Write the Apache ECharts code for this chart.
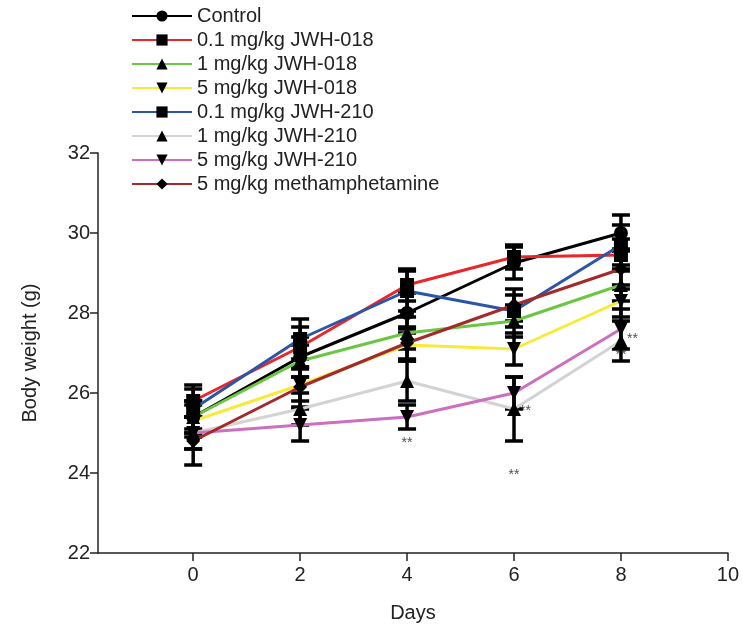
<!DOCTYPE html>
<html>
<head>
<meta charset="utf-8">
<script src="https://cdn.jsdelivr.net/npm/echarts@6/dist/echarts.min.js"></script>
<style>body{margin:0}#chart{width:742px;height:641px}</style>
</head>
<body>
<div id="chart"></div>
<script type="text/javascript">
var days = [0, 2, 4, 6, 8];
var names = ['Control', '0.1 mg/kg JWH-018', '1 mg/kg JWH-018', '5 mg/kg JWH-018',
    '0.1 mg/kg JWH-210', '1 mg/kg JWH-210', '5 mg/kg JWH-210', '5 mg/kg methamphetamine'];
var control  = [25.4, 26.9, 28.0, 29.25, 30.0];
var jwh018lo = [25.8, 27.15, 28.7, 29.4, 29.45];
var jwh018md = [25.4, 26.8, 27.5, 27.8, 28.7];
var jwh018hi = [25.3, 26.2, 27.2, 27.1, 28.3];
var jwh210lo = [25.6, 27.35, 28.55, 28.05, 29.7];
var jwh210md = [25.0, 25.6, 26.3, 25.6, 27.3];
var jwh210hi = [25.0, 25.2, 25.4, 26.0, 27.6];
var meth     = [24.8, 26.15, 27.25, 28.2, 29.1];
var errs = [
    [0.4, 0.5, 0.5, 0.4, 0.45],
    [0.4, 0.5, 0.4, 0.3, 0.4],
    [0.4, 0.4, 0.4, 0.4, 0.4],
    [0.4, 0.4, 0.4, 0.4, 0.4],
    [0.5, 0.5, 0.5, 0.4, 0.5],
    [0.4, 0.4, 0.5, 0.8, 0.5],
    [0.4, 0.4, 0.3, 0.4, 0.5],
    [0.6, 0.5, 0.4, 0.4, 0.5]
];
var colors = ['#000000', '#e8262b', '#6cc644', '#f6ea3a', '#2b55a6', '#d3d3d3', '#cc6fbe', '#a32a2a'];
var symbols = ['circle', 'rect', 'triangle', 'path://M0,0 L10,0 L5,10 Z', 'rect', 'triangle', 'path://M0,0 L10,0 L5,10 Z', 'diamond'];
var allData = [control, jwh018lo, jwh018md, jwh018hi, jwh210lo, jwh210md, jwh210hi, meth];
// significance marks below the bars: [day, weight, text]
var starsBelow = [[4, 24.75, '**'], [6, 23.95, '**'], [8, 26.95, '**']];
// significance marks to the right of the bars
var starsRight = [[6, 25.55, '**'], [8, 27.35, '**']];

var series = [];
allData.forEach(function (vals, i) {
    var errData = days.map(function (d, j) { return [d, vals[j] - errs[i][j], vals[j] + errs[i][j]]; });
    series.push({
        type: 'custom',
        silent: true,
        z: 3,
        renderItem: function (params, api) {
            var lo = api.coord([api.value(0), api.value(1)]);
            var hi = api.coord([api.value(0), api.value(2)]);
            var w = 9;
            var st = { stroke: '#000', lineWidth: 3.5 };
            return { type: 'group', children: [
                { type: 'line', shape: { x1: lo[0], y1: lo[1], x2: hi[0], y2: hi[1] }, style: st },
                { type: 'line', shape: { x1: lo[0] - w, y1: lo[1], x2: lo[0] + w, y2: lo[1] }, style: st },
                { type: 'line', shape: { x1: hi[0] - w, y1: hi[1], x2: hi[0] + w, y2: hi[1] }, style: st }
            ] };
        },
        data: errData
    });
    series.push({
        name: names[i],
        type: 'line',
        z: 4,
        symbol: symbols[i],
        symbolSize: 14,
        lineStyle: { color: colors[i], width: 3 },
        itemStyle: { color: '#000' },
        data: days.map(function (d, j) { return [d, vals[j]]; })
    });
});
series.push({
    type: 'scatter', symbolSize: 0, z: 5, silent: true,
    label: { show: true, position: 'inside', formatter: function (p) { return p.data[2]; }, color: '#222', fontSize: 14 },
    data: starsBelow
});
series.push({
    type: 'scatter', symbolSize: 0, z: 5, silent: true,
    label: { show: true, position: 'right', distance: 6, formatter: function (p) { return p.data[2]; }, color: '#222', fontSize: 14 },
    data: starsRight
});

var chart = echarts.init(document.getElementById('chart'));
chart.setOption({
    animation: false,
    textStyle: { fontFamily: 'Liberation Sans, Arial, sans-serif' },
    legend: {
        data: names,
        orient: 'vertical',
        left: 126,
        top: 1,
        itemGap: 4,
        itemWidth: 60,
        itemHeight: 14,
        textStyle: { fontSize: 20, color: '#222' }
    },
    grid: { left: 98, right: 14, top: 153, bottom: 88 },
    xAxis: {
        type: 'value',
        min: -1.78,
        max: 10,
        name: 'Days',
        nameLocation: 'middle',
        nameGap: 50,
        nameTextStyle: { fontSize: 20, color: '#222' },
        axisLine: { lineStyle: { color: '#222', width: 1.5 } },
        axisTick: { customValues: [0, 2, 4, 6, 8, 10], length: 8, lineStyle: { color: '#222', width: 1.5 } },
        axisLabel: { customValues: [0, 2, 4, 6, 8, 10], fontSize: 20, color: '#222', margin: 12 },
        splitLine: { show: false }
    },
    yAxis: {
        type: 'value',
        min: 22,
        max: 32,
        interval: 2,
        name: 'Body weight (g)',
        nameLocation: 'middle',
        nameGap: 58,
        nameTextStyle: { fontSize: 20, color: '#222' },
        axisLine: { show: true, onZero: false, lineStyle: { color: '#222', width: 1.5 } },
        axisTick: { show: true, length: 8, lineStyle: { color: '#222', width: 1.5 } },
        axisLabel: { fontSize: 20, color: '#222' },
        splitLine: { show: false }
    },
    series: series
});
</script>
</body>
</html>
